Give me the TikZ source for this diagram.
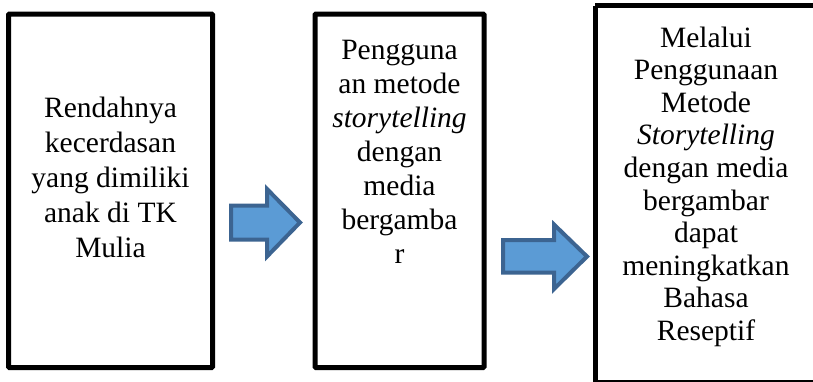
\documentclass[tikz,border=0pt]{standalone}
\usepackage{fontspec}
\setmainfont{Liberation Serif}
\definecolor{arrowfill}{RGB}{91,155,213}
\definecolor{arrowline}{RGB}{60,100,145}
\begin{document}
\begin{tikzpicture}[x=1pt,y=-1pt,
  boxstyle/.style={draw=black,line width=5pt,fill=white,rounded corners=1pt},
  labelstyle/.style={align=center,inner sep=0pt,anchor=north,font=\fontsize{29.5}{35}\selectfont},
  blockarrow/.style={fill=arrowfill,draw=arrowline,line width=4pt,line join=miter}]
\useasboundingbox (0,0) rectangle (813,381);
\clip (0,0) rectangle (813,381);
% boxes
\draw[boxstyle] (8.5,14) rectangle (212.5,367.5);
\node[inner sep=0pt] (b1) at (110.5,190.75) {};
\draw[boxstyle] (315,14) rectangle (484,367.5);
\node[inner sep=0pt] (b2) at (399.5,190.75) {};
\draw[boxstyle] (595,5.8) -- (900,5.8);
\draw[boxstyle] (595,5.8) -- (595,382.5);
\draw[boxstyle] (595,382.5) -- (900,382.5);
\node[inner sep=0pt] (b3) at (706,192) {};
% texts
\node[labelstyle] (t1) at (110.5,97) {Rendahnya\\kecerdasan\\yang dimiliki\\anak di TK\\Mulia};
\node[labelstyle,font=\fontsize{29.5}{34}\selectfont] (t2) at (399.5,40) {Pengguna\\an metode\\\textit{storytelling}\\dengan\\media\\bergamba\\r};
\node[labelstyle,font=\fontsize{29.5}{32.6}\selectfont] (t3) at (706,26.5) {Melalui\\Penggunaan\\Metode\\\textit{Storytelling}\\dengan media\\bergambar\\dapat\\meningkatkan\\Bahasa\\Reseptif};
% block arrows
\draw[blockarrow] (231,205.5) -- (267,205.5) -- (267,189) -- (300,222.5) -- (267,256.5) -- (267,239.5) -- (231,239.5) -- cycle;
\draw[blockarrow] (503,240) -- (554,240) -- (554,224.5) -- (587,256.5) -- (554,289) -- (554,272.5) -- (503,272.5) -- cycle;
\end{tikzpicture}
\end{document}
